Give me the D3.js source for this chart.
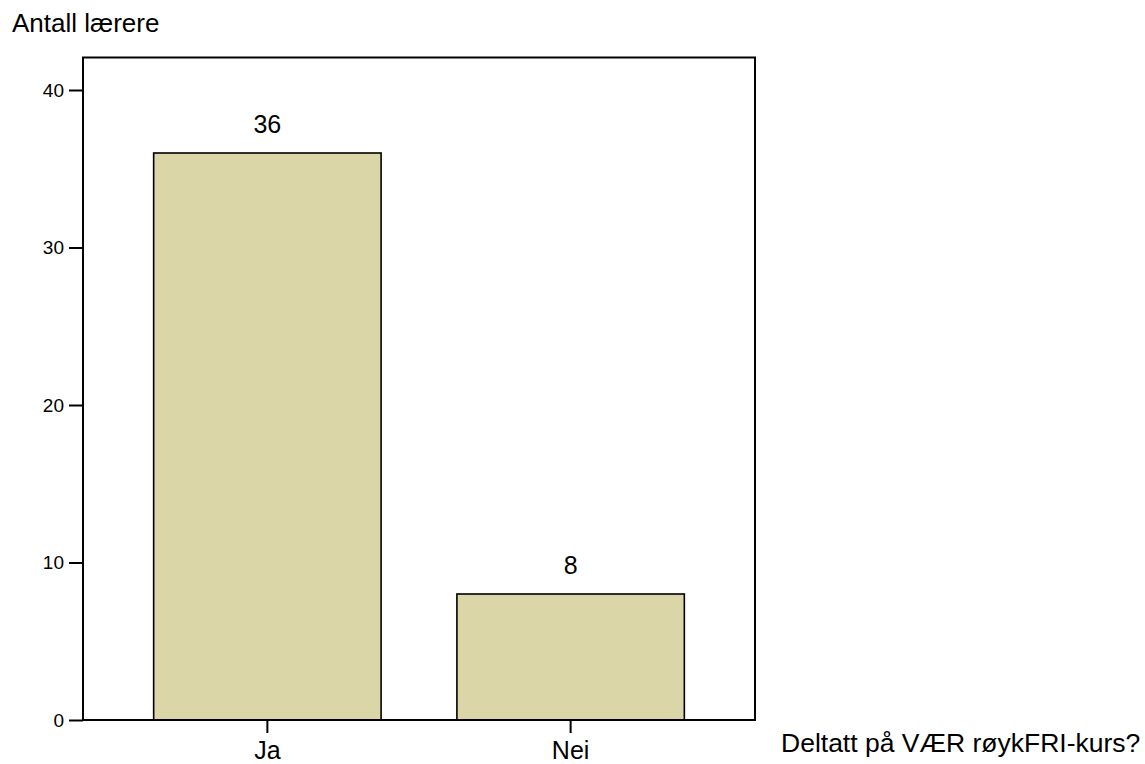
<!DOCTYPE html>
<html>
<head>
<meta charset="utf-8">
<script src="https://cdn.jsdelivr.net/npm/d3@7"></script>
<style>
  html, body { margin: 0; padding: 0; background: #fff; }
  svg { display: block; font-family: "Liberation Sans", Arial, sans-serif; }
</style>
</head>
<body>
<svg id="chart" width="1145" height="764"></svg>
<script>
const categories = ["Ja", "Nei"];
const values = [36, 8];
const yTicks = [0, 10, 20, 30, 40];
const yTitle = "Antall lærere";
const xTitle = "Deltatt på VÆR røykFRI-kurs?";

const svg = d3.select("#chart");
const plot = { left: 83, right: 755, top: 57.5, bottom: 720 };

const x = d3.scaleBand()
  .domain(categories)
  .range([plot.left, plot.right])
  .paddingInner(0.25)
  .paddingOuter(0.233);

const y = d3.scaleLinear()
  .domain([0, 40])
  .range([plot.bottom, 90]);

// bars
svg.append("g").selectAll("rect")
  .data(categories)
  .join("rect")
  .attr("x", d => x(d))
  .attr("y", (d, i) => y(values[i]))
  .attr("width", x.bandwidth())
  .attr("height", (d, i) => y(0) - y(values[i]))
  .attr("fill", "#DAD6A8")
  .attr("stroke", "#000")
  .attr("stroke-width", 1.6);

// value labels
svg.append("g").selectAll("text")
  .data(categories)
  .join("text")
  .attr("x", d => x(d) + x.bandwidth() / 2)
  .attr("y", (d, i) => y(values[i]) - 20)
  .attr("text-anchor", "middle")
  .attr("font-size", 25)
  .attr("fill", "#000")
  .text((d, i) => values[i]);

// frame
svg.append("rect")
  .attr("x", plot.left)
  .attr("y", plot.top)
  .attr("width", plot.right - plot.left)
  .attr("height", plot.bottom - plot.top)
  .attr("fill", "none")
  .attr("stroke", "#000")
  .attr("stroke-width", 2);

// y axis
const yAxis = d3.axisLeft(y).tickValues(yTicks).tickSize(14).tickPadding(5);
const gy = svg.append("g").attr("transform", `translate(${plot.left},0)`).call(yAxis);
gy.select(".domain").remove();
gy.selectAll(".tick line").attr("stroke", "#000").attr("stroke-width", 2);
gy.selectAll(".tick text")
  .attr("font-size", 19)
  .attr("font-family", "Liberation Sans, Arial, sans-serif")
  .attr("fill", "#000");

// x axis
const xAxis = d3.axisBottom(x).tickSize(13).tickPadding(8);
const gx = svg.append("g").attr("transform", `translate(0,${plot.bottom})`).call(xAxis);
gx.select(".domain").remove();
gx.selectAll(".tick line").attr("stroke", "#000").attr("stroke-width", 2);
gx.selectAll(".tick text")
  .attr("font-size", 25)
  .attr("font-family", "Liberation Sans, Arial, sans-serif")
  .attr("fill", "#000");

// titles
svg.append("text")
  .attr("x", 12)
  .attr("y", 31.5)
  .attr("font-size", 26)
  .attr("fill", "#000")
  .text(yTitle);

svg.append("text")
  .attr("x", 781)
  .attr("y", 752)
  .attr("font-size", 26.5)
  .attr("fill", "#000")
  .text(xTitle);
</script>
</body>
</html>
